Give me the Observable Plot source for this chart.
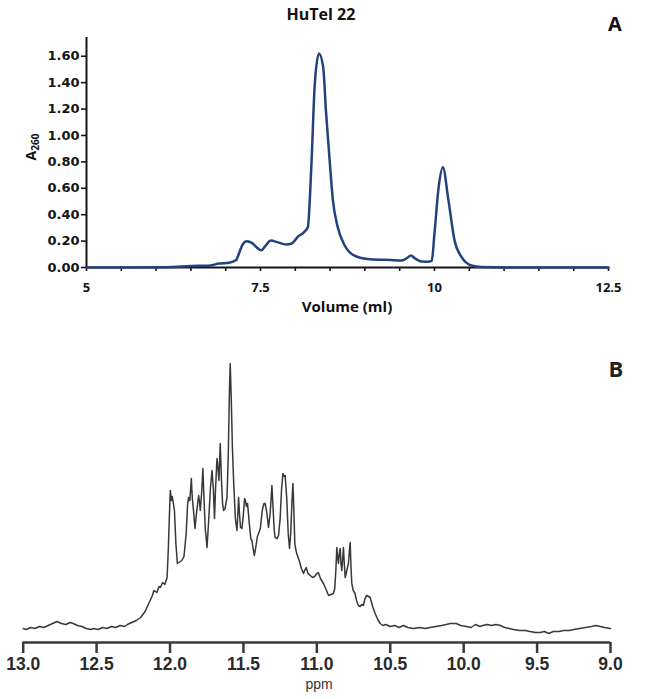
<!DOCTYPE html>
<html><head><meta charset="utf-8">
<script src="https://cdn.jsdelivr.net/npm/d3@7"></script>
<script src="https://cdn.jsdelivr.net/npm/@observablehq/plot@0.6"></script>
<style>
body{margin:0;background:#fff;}
#wrap{position:relative;width:650px;height:699px;overflow:hidden;background:#fff;}
.panel{position:absolute;left:0;}
.lbl{position:absolute;white-space:nowrap;color:#111;}
</style></head><body>
<div id="wrap">
  <div class="panel" id="pa" style="top:0"></div>
  <div class="panel" id="pb" style="top:330px"></div>
  <div class="lbl" style="left:241px;width:160px;top:6px;text-align:center;font:bold 16px/16px 'Open Sans';">HuTel 22</div>
  <div class="lbl" style="left:595px;width:40px;top:14px;text-align:center;font:bold 20px/20px 'Open Sans';">A</div>
  <div class="lbl" style="left:247px;width:200px;top:299px;text-align:center;font:bold 15px/15px 'Open Sans';">Volume (ml)</div>
  <div class="lbl" style="left:33px;top:147px;transform:translate(-50%,-50%) rotate(-90deg);font:bold 14px/14px 'Open Sans';">A<sub style="font-size:10px;vertical-align:-3px;">260</sub></div>
  <div class="lbl" style="left:596px;width:40px;top:357px;text-align:center;font:bold 22px/22px 'Open Sans';color:#222;">B</div>
  <div class="lbl" style="left:294px;width:50px;top:677px;text-align:center;font:14px/14px 'Liberation Sans';color:#333;">ppm</div>
</div>
<script>
// Panel A: size-exclusion chromatogram
const volA = [5, 5.5, 6.0, 6.25, 6.5, 6.75, 6.9, 7.05, 7.15, 7.2, 7.25, 7.3, 7.38, 7.45, 7.51, 7.58, 7.65, 7.75, 7.87, 7.95, 8.04, 8.12, 8.18, 8.23, 8.28, 8.34, 8.40, 8.44, 8.49, 8.54, 8.61, 8.71, 8.85, 9.04, 9.3, 9.52, 9.6, 9.66, 9.73, 9.81, 9.9, 9.96, 10.0, 10.06, 10.12, 10.2, 10.29, 10.39, 10.53, 10.68, 11.0, 12.5];
const absA = [0, 0, 0.002, 0.004, 0.012, 0.013, 0.03, 0.036, 0.056, 0.12, 0.18, 0.198, 0.185, 0.15, 0.13, 0.17, 0.205, 0.19, 0.175, 0.182, 0.235, 0.265, 0.305, 0.76, 1.39, 1.62, 1.52, 1.19, 0.835, 0.51, 0.305, 0.167, 0.09, 0.065, 0.058, 0.053, 0.07, 0.09, 0.065, 0.045, 0.044, 0.05, 0.26, 0.61, 0.76, 0.51, 0.2, 0.078, 0.015, 0.003, 0, 0];
const yTicksA = [0, 0.2, 0.4, 0.6, 0.8, 1.0, 1.2, 1.4, 1.6];
const xTicksA = [5, 5.5, 6, 6.5, 7, 7.5, 8, 8.5, 9, 9.5, 10, 10.5, 11, 11.5, 12, 12.5];
const xLabelsA = [5, 7.5, 10, 12.5];

// Panel B: 1H NMR imino region
const ppmB = [13.0,12.98,12.95,12.92,12.89,12.86,12.83,12.80,12.77,12.74,12.71,12.68,12.66,12.63,12.60,12.57,12.54,12.52,12.49,12.46,12.43,12.40,12.37,12.34,12.31,12.29,12.26,12.23,12.20,12.17,12.145,12.12,12.11,12.09,12.075,12.066,12.05,12.035,12.02,12.012,12.005,11.998,11.99,11.985,11.978,11.97,11.96,11.95,11.94,11.92,11.905,11.89,11.88,11.873,11.865,11.855,11.848,11.84,11.83,11.82,11.805,11.798,11.794,11.785,11.776,11.77,11.76,11.748,11.738,11.725,11.714,11.705,11.697,11.69,11.68,11.673,11.667,11.658,11.65,11.642,11.635,11.625,11.612,11.603,11.595,11.59,11.583,11.575,11.567,11.555,11.544,11.538,11.533,11.527,11.52,11.51,11.5,11.492,11.487,11.479,11.472,11.46,11.45,11.442,11.434,11.426,11.415,11.405,11.397,11.385,11.372,11.36,11.352,11.34,11.329,11.318,11.306,11.298,11.29,11.284,11.27,11.261,11.25,11.24,11.231,11.222,11.216,11.205,11.195,11.186,11.178,11.17,11.163,11.157,11.15,11.145,11.135,11.12,11.105,11.091,11.083,11.073,11.06,11.045,11.03,11.015,11.0,10.99,10.975,10.955,10.94,10.92,10.905,10.887,10.878,10.87,10.864,10.858,10.853,10.847,10.841,10.836,10.83,10.824,10.819,10.813,10.807,10.8,10.796,10.785,10.778,10.773,10.767,10.762,10.752,10.74,10.73,10.717,10.705,10.695,10.683,10.672,10.66,10.648,10.637,10.62,10.603,10.585,10.569,10.55,10.53,10.5,10.47,10.44,10.41,10.38,10.34,10.3,10.26,10.23,10.19,10.15,10.12,10.09,10.05,10.02,9.98,9.95,9.92,9.89,9.87,9.84,9.81,9.78,9.75,9.72,9.69,9.66,9.62,9.58,9.55,9.51,9.48,9.45,9.42,9.39,9.35,9.32,9.28,9.25,9.21,9.17,9.13,9.1,9.07,9.04,9.0];
const intB = [0,-1,1,0,2,1,3,5,7,5,4,6,5,3,2,0,-1,0,-1,1,0,2,1,3,2,4,6,8,11,17,25,33,38,36,42,41,46,44,51,78,110,138,128,132,126,118,85,65,66,68,72,95,125,131,128,150,130,118,100,115,133,125,118,135,160,135,100,81,105,140,158,140,110,140,170,160,148,185,150,125,118,120,131,175,240,265,230,180,148,110,98,115,131,115,101,100,115,130,128,122,125,105,90,88,80,73,82,92,95,100,118,125,125,115,101,115,143,120,98,91,90,93,110,140,155,152,153,130,95,80,95,125,145,120,85,80,74,68,60,55,58,61,55,53,51,52,55,56,50,45,40,33,34,35,40,60,81,70,65,75,80,65,58,70,81,65,51,55,58,65,78,86,60,45,38,35,28,23,22,24,23,30,33,32,31,22,15,9,5,3,4,2,3,1,3,1,0,1,0,1,2,3,4,5,5,3,2,1,4,2,3,4,3,4,3,1,0,-1,-2,-2,-3,-4,-4,-3,-5,-3,-3,-2,-2,-1,0,1,2,3,2,1,0];
const ppmTicks = [13.0, 12.5, 12.0, 11.5, 11.0, 10.5, 10.0, 9.5, 9.0];

const chromA = volA.map((v, i) => ({vol: v, a: absA[i]}));
const nmr = ppmB.map((p, i) => ({ppm: p, I: intB[i]}));

const yDomA = [0, 1.742];
const plotA = Plot.plot({
  width: 650, height: 320,
  marginLeft: 86, marginRight: 42, marginTop: 37, marginBottom: 53,
  x: {domain: [5, 12.5]},
  y: {domain: yDomA},
  style: {background: "white", color: "#151515", overflow: "visible"},
  marks: [
    Plot.axisY({ticks: yTicksA, tickSize: 5, tickPadding: 2, strokeWidth: 1.6,
      tickFormat: d => d.toFixed(2), label: null,
      fontSize: 13, fontWeight: "bold", fontFamily: "DejaVu Sans"}),
    Plot.axisX({ticks: xTicksA, tickSize: 4, tickPadding: 11, strokeWidth: 1.6,
      tickFormat: d => xLabelsA.some(v => Math.abs(v - d) < 1e-9) ? String(d) : "",
      label: null, fontSize: 13, fontWeight: "bold", fontFamily: "Open Sans"}),
    Plot.ruleX([5], {stroke: "#151515", strokeWidth: 2}),
    Plot.ruleY([0], {stroke: "#151515", strokeWidth: 2}),
    Plot.line(chromA, {x: "vol", y: "a", curve: "monotone-x", stroke: "#24417e", strokeWidth: 2.5})
  ]
});
document.getElementById("pa").appendChild(plotA);

const yDomB = [-14, 278];
const plotB = Plot.plot({
  width: 650, height: 369,
  marginLeft: 22.7, marginRight: 40, marginTop: 20, marginBottom: 57,
  x: {domain: [13, 9]},
  y: {domain: yDomB, axis: null},
  style: {background: "white", color: "#3a3a3a", overflow: "visible"},
  marks: [
    Plot.axisX({ticks: ppmTicks, tickSize: 11, tickPadding: 4, strokeWidth: 2.5,
      tickFormat: d => d.toFixed(1), label: null,
      fontSize: 17.5, fontWeight: "bold", fontFamily: "Liberation Sans", fill: "#2a2a2a"}),
    Plot.ruleY([yDomB[0]], {stroke: "#3a3a3a", strokeWidth: 2.5}),
    Plot.line(nmr, {x: "ppm", y: "I", stroke: "#383838", strokeWidth: 1.5, strokeLinejoin: "round"})
  ]
});
document.getElementById("pb").appendChild(plotB);
</script>
</body></html>
